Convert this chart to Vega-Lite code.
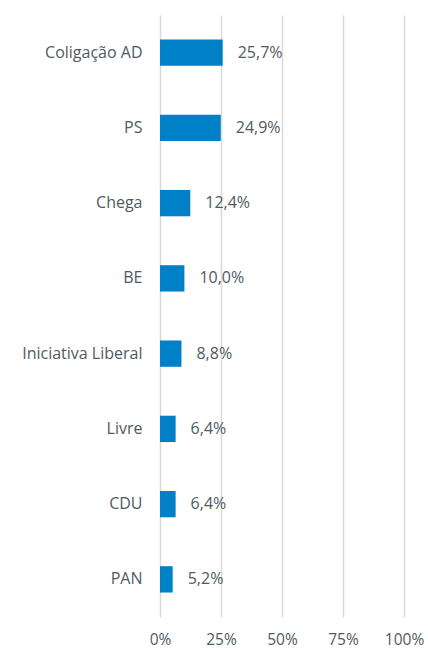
{
  "$schema": "https://vega.github.io/schema/vega-lite/v6.json",
  "autosize": "none",
  "width": 244,
  "height": 602,
  "padding": {"left": 160, "top": 15, "right": 24, "bottom": 34},
  "background": "white",
  "config": {
    "view": {"stroke": null},
    "locale": {"number": {"decimal": ",", "thousands": ".", "grouping": [3], "currency": ["", " €"]}},
    "font": "Open Sans"
  },
  "data": {
    "values": [
      {"partido": "Coligação AD", "valor": 0.257},
      {"partido": "PS", "valor": 0.249},
      {"partido": "Chega", "valor": 0.124},
      {"partido": "BE", "valor": 0.100},
      {"partido": "Iniciativa Liberal", "valor": 0.088},
      {"partido": "Livre", "valor": 0.064},
      {"partido": "CDU", "valor": 0.064},
      {"partido": "PAN", "valor": 0.052}
    ]
  },
  "encoding": {
    "y": {
      "field": "partido", "type": "nominal", "sort": null,
      "scale": {"paddingInner": 0.65, "paddingOuter": 0.325},
      "axis": {"title": null, "domain": false, "ticks": false, "labelPadding": 18, "labelFontSize": 16, "labelColor": "#505a62", "labelFont": "Open Sans", "grid": false}
    },
    "x": {
      "field": "valor", "type": "quantitative",
      "scale": {"domain": [0, 1], "nice": false},
      "axis": {"title": null, "values": [0, 0.25, 0.5, 0.75, 1], "format": ".0%", "domain": false, "ticks": false, "labelPadding": 15, "labelFontSize": 15.5, "labelColor": "#505a62", "gridColor": "#d9d9d9", "gridWidth": 1.5, "labelFlush": false}
    }
  },
  "layer": [
    {"mark": {"type": "bar", "color": "#0080c6"}},
    {
      "mark": {"type": "text", "align": "left", "dx": 15, "fontSize": 16, "color": "#505a62", "font": "Open Sans"},
      "encoding": {"text": {"field": "valor", "type": "quantitative", "format": ".1%"}}
    }
  ]
}
